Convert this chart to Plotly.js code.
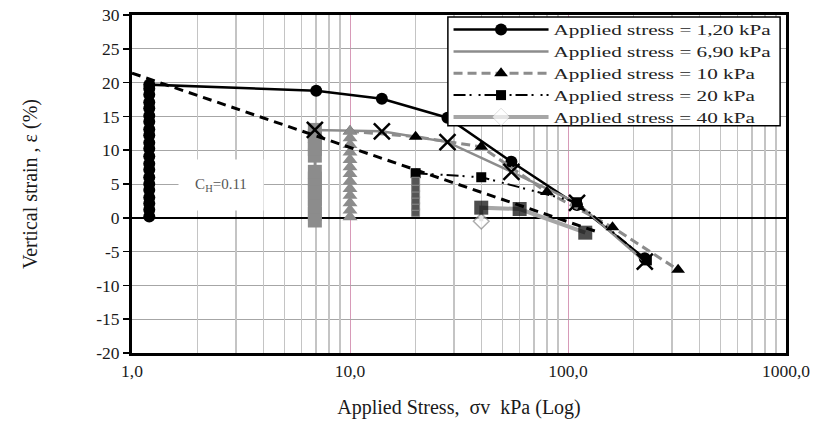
<!DOCTYPE html>
<html><head><meta charset="utf-8">
<script src="https://cdn.plot.ly/plotly-3.0.1.min.js"></script>
<style>html,body{margin:0;padding:0;background:#fff}#chart{width:820px;height:435px}</style>
</head><body><div id="chart"></div>
<script>
// ---- data ----
const seriesNames = ['Applied stress = 1,20 kPa','Applied stress = 6,90 kPa','Applied stress = 10 kPa','Applied stress = 20 kPa','Applied stress = 40 kPa'];

// 1.20 kPa
const s1StackX = 1.2;
const s1StackY = [0.2, 1.2, 2.1, 3.0, 4.1, 5.0, 6.0, 7.1, 8.0, 9.1, 10.2, 11.1, 12.2, 13.1, 14.2, 15.1, 16.2, 17.1, 18.2, 19.1, 19.7];
const s1CurveX = [7, 14, 28, 55, 110, 225];
const s1CurveY = [18.8, 17.6, 14.8, 8.3, 1.9, -6.0];

// 6.90 kPa
const s2StackX = 6.9;
const s2StackY = [-0.4, 0.6, 1.7, 2.8, 3.8, 4.8, 5.8, 6.8, 9.2, 10.2, 11.1, 12.1, 13.0];
const s2CurveX = [14, 28, 55, 110, 225];
const s2CurveY = [12.8, 11.2, 6.8, 2.2, -6.5];

// 10 kPa
const s3StackX = 10;
const s3StackY = [0.1, 1.1, 2.2, 3.3, 4.3, 5.4, 6.5, 7.5, 8.6, 9.7, 10.8, 11.8, 12.8];
const s3CurveX = [10, 20, 40, 80, 160, 320];
const s3CurveY = [12.8, 12.0, 10.5, 3.8, -1.4, -7.7];

// 20 kPa
const s4StackX = 20;
const s4StackY = [0.8, 1.7, 2.6, 3.5, 4.4, 5.4];
const s4CurveX = [20, 40, 110, 230];
const s4CurveY = [6.6, 6.0, 2.3, -6.3];

// 40 kPa
const s5X = [40, 40, 60, 120];
const s5Y = [-0.5, 1.5, 1.3, -2.2];

// compression index line
const chLabel = 'C<sub>H</sub>=0.11';
const chX = [1, 140];
const chY = [21.4, -2.2];

// axis ticks
const xTickVals = [1, 10, 100, 1000];
const xTickText = ['1,0', '10,0', '100,0', '1000,0'];
const yTickVals = [-20, -15, -10, -5, 0, 5, 10, 15, 20, 25, 30];
const yTickText = ['-20', '-15', '-10', '-5', '0', '5', '10', '15', '20', '25', '30'];

// ---- build ----
const rep = (v, n) => Array.from({length: n}, () => v);
const serif = 'Liberation Serif, Times New Roman, serif';
const grey = '#8c8c8c';
const ink = '#1a1a1a';

const traces = [];
// C_H dashed line (on the overlaid axis that carries the minor grid; same range)
traces.push({x: chX, y: chY, xaxis: 'x2', yaxis: 'y', mode: 'lines', showlegend: false, hoverinfo: 'skip',
  line: {color: 'black', width: 3, dash: '9px,6px'}});

// 1.20 kPa
traces.push({name: seriesNames[0], x: rep(s1StackX, s1StackY.length).concat(s1CurveX),
  y: s1StackY.concat(s1CurveY), mode: 'lines+markers',
  line: {color: 'black', width: 2.5}, marker: {symbol: 'circle', size: 12, color: 'black'}});

// 6.90 kPa
traces.push({name: seriesNames[1], x: rep(s2StackX, s2StackY.length).concat(s2CurveX),
  y: s2StackY.concat(s2CurveY), mode: 'lines',
  line: {color: grey, width: 2.5}});
traces.push({x: rep(s2StackX, s2StackY.length), y: s2StackY, mode: 'markers', showlegend: false,
  marker: {symbol: 'square', size: 14, color: grey}});

// 10 kPa
traces.push({name: seriesNames[2], x: s3CurveX, y: s3CurveY, mode: 'lines+markers',
  line: {color: grey, width: 3, dash: '9px,5px'}, marker: {symbol: 'triangle-up', size: 12, color: 'black'}});
traces.push({x: rep(s3StackX, s3StackY.length), y: s3StackY, mode: 'markers', showlegend: false,
  marker: {symbol: 'triangle-up', size: 13, color: grey}});

// 20 kPa
traces.push({name: seriesNames[3], x: s4CurveX, y: s4CurveY, mode: 'lines+markers',
  line: {color: 'black', width: 2, dash: '12px,4px,2px,7px,2px,4px'}, marker: {symbol: 'square', size: 10, color: 'black'}});
traces.push({x: rep(s4StackX, s4StackY.length), y: s4StackY, mode: 'markers', showlegend: false,
  marker: {symbol: 'square', size: 8, color: '#555', line: {color: grey, width: 1}}});

// 40 kPa
traces.push({name: seriesNames[4], x: s5X, y: s5Y, mode: 'lines+markers',
  line: {color: '#a6a6a6', width: 4},
  marker: {symbol: ['diamond', 'square', 'square', 'square'], size: [12, 14, 14, 14],
    color: ['white', 'black', 'black', 'black'], line: {color: grey, width: [1.5, 0, 0, 0]}}});

// X markers
traces.push({x: [s2StackX].concat(s2CurveX), y: [s2StackY[s2StackY.length - 1]].concat(s2CurveY),
  mode: 'markers', showlegend: false,
  marker: {symbol: 'x-thin', size: 16, color: 'black', line: {color: 'black', width: 2.5}}});

const minorVals = [];
[1, 10, 100].forEach(d => { for (let k = 2; k <= 9; k++) minorVals.push(k * d); });

const layout = {
  width: 820, height: 435,
  margin: {l: 132, r: 34, t: 15, b: 82},
  paper_bgcolor: 'white', plot_bgcolor: 'white',
  font: {family: serif, color: ink, size: 17},
  showlegend: true,
  legend: {x: 0.484, xanchor: 'left', y: 1.004, yanchor: 'top', bgcolor: 'rgba(0,0,0,0)',
    borderwidth: 0, font: {family: serif, size: 14.5, color: '#222'},
    itemwidth: 95, tracegroupgap: 0},
  shapes: [{type: 'rect', xref: 'paper', yref: 'paper', x0: 0.483, x1: 0.991, y0: 0.672, y1: 0.994,
    layer: 'above', fillcolor: 'white', line: {color: 'black', width: 1.5}}],
  xaxis: {type: 'log', range: [0, 3], tickvals: xTickVals, ticktext: xTickText,
    showgrid: true, gridcolor: '#d79ab8', gridwidth: 1,
    showline: true, mirror: true, linecolor: 'black', linewidth: 3,
    ticks: '', tickfont: {family: serif, size: 17.5, color: ink},
    title: {text: 'Applied Stress,  σv  kPa (Log)', font: {family: serif, size: 20, color: ink}, standoff: 20},
    zeroline: false},
  xaxis2: {type: 'log', range: [0, 3], overlaying: 'x', anchor: 'y', tickvals: minorVals,
    showticklabels: false, ticks: '', showgrid: true, gridcolor: '#c4c4c4', gridwidth: 1.5,
    showline: false, zeroline: false},
  yaxis: {range: [-20, 30], tickvals: yTickVals, ticktext: yTickText, showgrid: true, gridcolor: '#a6a6a6', gridwidth: 1,
    zeroline: true, zerolinecolor: 'black', zerolinewidth: 2,
    showline: true, mirror: true, linecolor: 'black', linewidth: 3,
    ticks: 'outside', ticklen: 6, tickwidth: 1.5, tickcolor: 'black',
    tickfont: {family: serif, size: 17.5, color: ink},
    title: {text: 'Vertical strain , ε (%)', font: {family: serif, size: 20, color: ink}, standoff: 54}},
  annotations: [{x: Math.log10(2.56), y: 4.9, xref: 'x', yref: 'y', text: chLabel, showarrow: false,
    bgcolor: 'white', width: 82, height: 48, font: {family: serif, size: 15, color: '#555'}}]
};

Plotly.newPlot('chart', traces, layout, {displayModeBar: false, staticPlot: true}).then(gd => {
  // the reference's legend lettering is set wide; widen the drawn legend text to match
  gd.querySelectorAll('.legend .scrollbox').forEach(g => g.removeAttribute('clip-path'));
  gd.querySelectorAll('.legendtext').forEach(t => {
    const w = t.getComputedTextLength();
    t.setAttribute('textLength', (w * 1.46).toFixed(1));
    t.setAttribute('lengthAdjust', 'spacingAndGlyphs');
  });
});
</script></body></html>
